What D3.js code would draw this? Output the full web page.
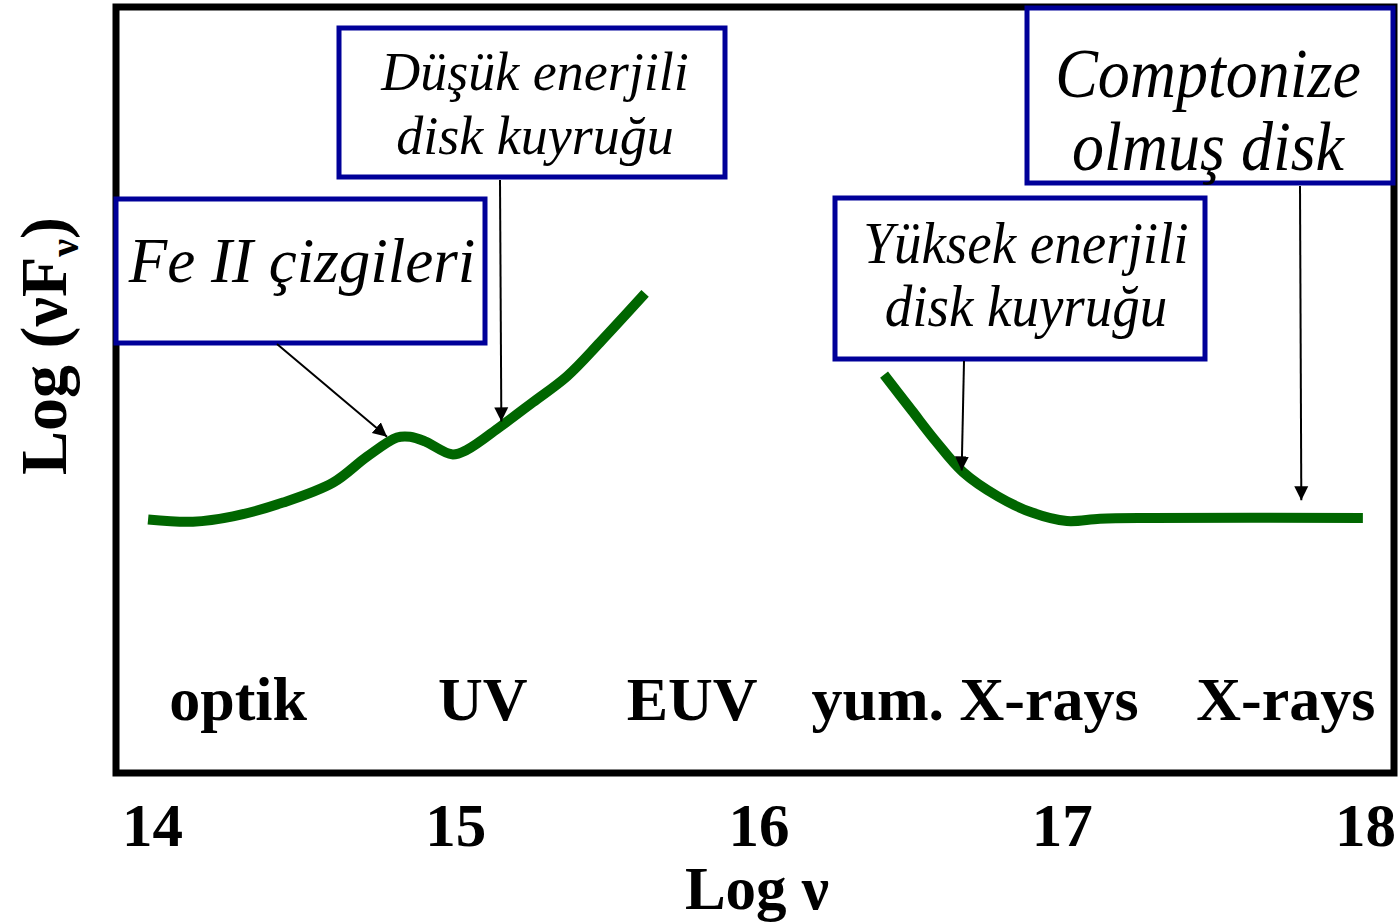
<!DOCTYPE html>
<html><head><meta charset="utf-8">
<script src="https://cdn.jsdelivr.net/npm/d3@7"></script>
<style>html,body{margin:0;padding:0;background:#fff;} svg{display:block}</style>
</head><body>
<svg id="c" width="1400" height="924"></svg>
<script>
// ---- data ----
const xTicks = [14, 15, 16, 17, 18];
const lowNu    = [13.987, 14.135, 14.267, 14.432, 14.597, 14.709, 14.808, 14.851, 14.900, 14.989, 15.039, 15.148, 15.256, 15.369, 15.477, 15.626];
const lowFlux  = [3.31, 3.28, 3.35, 3.53, 3.79, 4.13, 4.38, 4.39, 4.33, 4.16, 4.22, 4.52, 4.84, 5.18, 5.62, 6.26];
const highNu   = [16.414, 16.506, 16.585, 16.674, 16.790, 16.902, 17.017, 17.126, 17.291, 17.993];
const highFlux = [5.20, 4.73, 4.33, 3.93, 3.61, 3.40, 3.29, 3.32, 3.33, 3.33];
const bandLabels = ["optik", "UV", "EUV", "yum. X-rays", "X-rays"];
const bandNu     = [14.284, 15.091, 15.781, 16.714, 17.739];
const noteTexts  = [["Fe II çizgileri"], ["Düşük enerjili", "disk kuyruğu"], ["Yüksek enerjili", "disk kuyruğu"], ["Comptonize", "olmuş disk"]];
const noteTipNu   = [14.775, 15.152, 16.67, 17.79];
const noteTipFlux = [4.39, 4.59, 3.95, 3.56];
const xTitle = "Log ν";

// ---- layout ----
const frame = {x0: 116, y0: 7, x1: 1394, y1: 773};
const boxes = [
  {x: 116, y: 199, w: 369, h: 144, size: 63, sy: 1.0, cx: 302, base: [282], sx: 277, sy0: 344},
  {x: 339, y: 28,  w: 386, h: 149, size: 54, sy: 1.0, cx: 535, base: [90, 154], sx: 500, sy0: 180},
  {x: 835, y: 198, w: 370, h: 161, size: 55, sy: 1.08, cx: 1026, base: [263, 326], sx: 964, sy0: 361},
  {x: 1027, y: 8,  w: 366, h: 175, size: 64, sy: 1.08, cx: 1208, base: [97, 170], sx: 1300, sy0: 186}
];

const svg = d3.select("#c");
const x = d3.scaleLinear().domain([14, 18]).range([152, 1365]);
const y = d3.scaleLinear().domain([0, 10]).range([frame.y1, frame.y0]);
const serif = "'Liberation Serif','Times New Roman',serif";

svg.append("defs").append("marker")
  .attr("id", "ah").attr("viewBox", "0 0 14 16").attr("refX", 14).attr("refY", 8)
  .attr("markerWidth", 14).attr("markerHeight", 16).attr("markerUnits", "userSpaceOnUse")
  .attr("orient", "auto")
  .append("path").attr("d", "M0,1 L14,8 L0,15 Z").attr("fill", "#000");

// frame
svg.append("rect")
  .attr("x", frame.x0).attr("y", frame.y0)
  .attr("width", frame.x1 - frame.x0).attr("height", frame.y1 - frame.y0)
  .attr("fill", "none").attr("stroke", "#000").attr("stroke-width", 7);

// curves
const line = d3.line().x(d => x(d[0])).y(d => y(d[1])).curve(d3.curveCatmullRom.alpha(0.5));
[[lowNu, lowFlux], [highNu, highFlux]].forEach(([xs, ys]) => {
  svg.append("path").datum(xs.map((v, i) => [v, ys[i]]))
    .attr("d", line).attr("fill", "none").attr("stroke", "#006600")
    .attr("stroke-width", 10).attr("stroke-linecap", "butt").attr("stroke-linejoin", "round");
});

// band labels
svg.append("g").selectAll("text").data(bandLabels).join("text")
  .attr("x", (d, i) => x(bandNu[i])).attr("y", 720)
  .attr("text-anchor", "middle").attr("font-family", serif).attr("font-weight", "bold")
  .attr("font-size", 62).text(d => d);

// x axis
const ax = svg.append("g").attr("transform", `translate(0,${frame.y1})`)
  .call(d3.axisBottom(x).tickValues(xTicks).tickSize(0).tickPadding(0).tickFormat(d3.format("d")));
ax.select(".domain").remove();
ax.selectAll("text").attr("font-family", serif).attr("font-weight", "bold")
  .attr("font-size", 61).attr("fill", "#000").attr("dy", null).attr("y", 73);

svg.append("text").attr("x", 757).attr("y", 909).attr("text-anchor", "middle")
  .attr("font-family", serif).attr("font-weight", "bold").attr("font-size", 61).text(xTitle);

// y title
const yt = svg.append("text").attr("transform", "translate(66,346) rotate(-90)")
  .attr("text-anchor", "middle").attr("font-family", serif).attr("font-weight", "bold").attr("font-size", 66);
yt.append("tspan").text("Log (νF");
yt.append("tspan").attr("font-size", 40).attr("dy", 12).text("ν");
yt.append("tspan").attr("dy", -12).text(")");

// annotation boxes
boxes.forEach((b, i) => {
  const g = svg.append("g");
  g.append("rect").attr("x", b.x).attr("y", b.y).attr("width", b.w).attr("height", b.h)
    .attr("fill", "#fff").attr("stroke", "#000099").attr("stroke-width", 5);
  noteTexts[i].forEach((t, j) => {
    g.append("text")
      .attr("transform", `translate(${b.cx},${b.base[j]}) scale(1,${b.sy})`)
      .attr("text-anchor", "middle").attr("font-family", serif).attr("font-style", "italic")
      .attr("font-size", b.size).text(t);
  });
  svg.append("line").attr("x1", b.sx).attr("y1", b.sy0)
    .attr("x2", x(noteTipNu[i])).attr("y2", y(noteTipFlux[i]))
    .attr("stroke", "#000").attr("stroke-width", 2).attr("marker-end", "url(#ah)");
});
</script>
</body></html>
